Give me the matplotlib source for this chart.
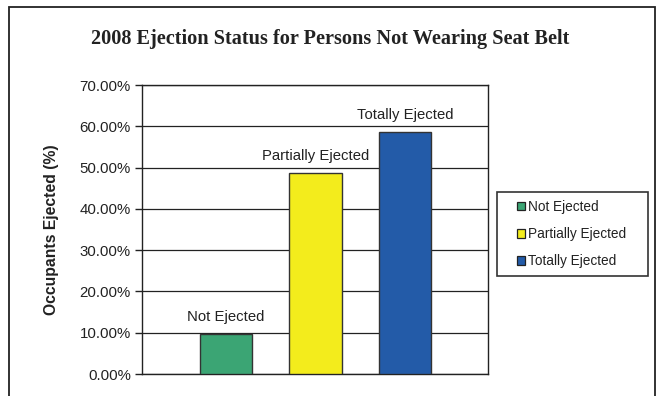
import matplotlib
matplotlib.use("Agg")
import matplotlib.pyplot as plt
from matplotlib.patches import Rectangle, Patch

categories = ["Not Ejected", "Partially Ejected", "Totally Ejected"]
values = [9.7, 48.6, 58.6]
colors = ["#3BA574", "#F3EC1C", "#235BA8"]
yticks = [0, 10, 20, 30, 40, 50, 60, 70]
ytick_labels = ["0.00%", "10.00%", "20.00%", "30.00%", "40.00%", "50.00%", "60.00%", "70.00%"]

W, H = 660, 396
fig = plt.figure(figsize=(6.6, 3.96), dpi=100)
fig.patch.set_facecolor("white")

# outer chart frame
fig.add_artist(Rectangle((9 / W, -0.05), (655 - 9) / W, (H - 7) / H + 0.05,
                         transform=fig.transFigure, fill=False,
                         edgecolor="#222222", linewidth=1.3))

ax = fig.add_axes([142 / W, (H - 374) / H, 346 / W, 289 / H])
x = [0, 1, 2]
ax.bar(x, values, width=0.585, color=colors, edgecolor="#333333",
       linewidth=1.0, zorder=3)
ax.set_xlim(-0.94, 2.93)
ax.set_ylim(0, 70)
ax.set_yticks(yticks)
ax.set_yticklabels(ytick_labels, fontsize=10.8, family="Liberation Sans", color="#222222")
ax.set_xticks([])
ax.grid(axis="y", color="#222222", linewidth=0.9, zorder=0)
ax.tick_params(axis="y", direction="out", length=5, width=1, color="#222222", pad=3)
for s in ax.spines.values():
    s.set_color("#222222")
    s.set_linewidth(1.0)

for xi, v, lab in zip(x, values, categories):
    ax.text(xi, v + 2.4, lab, ha="center", va="bottom", fontsize=10.7,
            family="Liberation Sans", color="#222222")

ax.set_ylabel("Occupants Ejected (%)", fontsize=11.3, fontweight="bold",
              family="Liberation Sans", color="#222222")
ax.yaxis.set_label_coords((59 - 142) / 346, 0.5)

fig.text(0.5, 1 - 39 / H, "2008 Ejection Status for Persons Not Wearing Seat Belt",
         ha="center", va="center", fontsize=14.6, fontweight="bold",
         family="Liberation Serif", color="#222222")

# legend frame
fig.add_artist(Rectangle((497 / W, 1 - 276 / H), (648 - 497) / W, (276 - 192) / H,
                         transform=fig.transFigure, fill=False,
                         edgecolor="#333333", linewidth=1.2))
handles = [Patch(facecolor=c, edgecolor="#222222", linewidth=0.9) for c in colors]
leg = fig.legend(handles, categories, loc="center left",
                 bbox_to_anchor=(506 / W, 1 - 234 / H), frameon=False,
                 prop={"family": "Liberation Sans", "size": 9.8},
                 handlelength=0.6, handleheight=0.6, handletextpad=0.25,
                 labelspacing=0.97, borderpad=0.3)
for t in leg.get_texts():
    t.set_color("#222222")

fig.savefig("out.png", dpi=100)
